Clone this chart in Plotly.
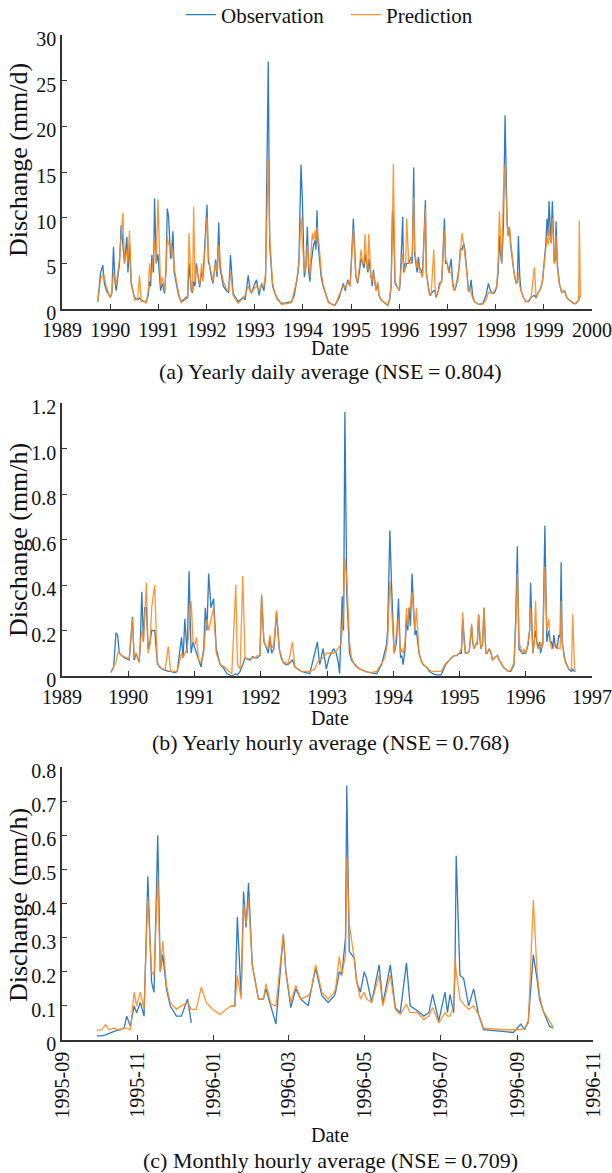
import plotly.graph_objects as go
from datetime import datetime, timedelta
import calendar

# ---------------- Panel (a): yearly daily average (decimal years) ----------------
# main peaks / troughs
a_years = [1989.743, 1989.799, 1989.847, 1989.917, 1990.0, 1990.035, 1990.069, 1990.125, 1990.194, 1990.229,
           1990.264, 1990.298, 1990.347, 1990.402, 1990.437, 1990.506, 1990.610, 1990.645, 1990.749, 1990.818,
           1990.867, 1990.922, 1990.957, 1990.992, 1991.047, 1991.130, 1991.186, 1991.214, 1991.255, 1991.304,
           1991.373, 1991.477, 1991.581, 1991.637, 1991.685, 1991.734, 1991.789, 1991.859, 1991.928, 1992.011,
           1992.067, 1992.136, 1992.191, 1992.254, 1992.309, 1992.413, 1992.497, 1992.552, 1992.656, 1992.760,
           1992.864, 1992.933, 1993.037, 1993.141, 1993.225, 1993.280, 1993.336, 1993.419, 1993.558, 1993.766,
           1993.870, 1993.918, 1993.960, 1993.988, 1994.029, 1994.092, 1994.147, 1994.196, 1994.251, 1994.293,
           1994.334, 1994.424, 1994.528, 1994.667, 1994.840, 1994.931, 1995.048, 1995.138, 1995.207, 1995.242,
           1995.290, 1995.332, 1995.367, 1995.415, 1995.463, 1995.519, 1995.553, 1995.622, 1995.761, 1995.830,
           1995.858, 1995.878, 1995.913, 1996.003, 1996.037, 1996.072, 1996.107, 1996.155, 1996.196, 1996.245,
           1996.300, 1996.349, 1996.397, 1996.452, 1996.542, 1996.591, 1996.660, 1996.715, 1996.763, 1996.833,
           1996.936, 1996.992, 1997.075, 1997.144, 1997.213, 1997.268, 1997.303, 1997.338, 1997.386, 1997.434,
           1997.490, 1997.559, 1997.732, 1997.849, 1997.939, 1998.022, 1998.077, 1998.126, 1998.160, 1998.195,
           1998.237, 1998.285, 1998.354, 1998.423, 1998.472, 1998.527, 1998.631, 1998.734, 1998.804, 1998.873,
           1998.942, 1999.011, 1999.066, 1999.108, 1999.149, 1999.177, 1999.218, 1999.253, 1999.322, 1999.426,
           1999.564, 1999.668, 1999.723, 1999.737, 1999.758]
a_obs = [0.8, 3.9, 4.8, 2.1, 1.3, 1.7, 6.8, 2.0, 5.0, 9.2,
         7.0, 5.0, 7.9, 7.0, 2.8, 1.3, 1.2, 1.0, 0.8, 3.0,
         5.9, 12.1, 5.0, 6.0, 2.0, 1.7, 11.0, 10.1, 5.5, 8.5,
         2.8, 0.8, 1.3, 5.0, 2.0, 3.0, 5.0, 2.4, 3.5, 11.4,
         4.8, 2.8, 5.4, 9.5, 3.5, 2.0, 5.9, 1.7, 0.8, 1.3,
         3.7, 1.7, 3.2, 2.8, 3.5, 27.1, 5.0, 1.7, 0.6, 0.8,
         3.2, 5.5, 15.8, 12.1, 3.5, 9.0, 3.0, 6.0, 7.5, 10.8,
         6.0, 2.4, 0.8, 0.4, 2.8, 3.2, 9.9, 2.8, 5.5, 5.0,
         6.0, 4.3, 5.5, 3.5, 4.3, 2.0, 2.8, 1.0, 0.4, 2.4,
         10.7, 10.0, 2.8, 2.0, 5.0, 10.1, 5.0, 5.0, 5.0, 5.7,
         15.5, 5.0, 5.7, 4.3, 11.9, 2.8, 1.7, 2.0, 1.3, 2.8,
         9.9, 5.0, 5.5, 2.0, 3.4, 6.6, 6.5, 7.2, 5.0, 2.0,
         3.2, 0.8, 0.6, 2.8, 1.7, 2.4, 8.0, 5.0, 9.0, 21.2,
         9.4, 9.0, 5.0, 2.8, 8.0, 2.0, 0.8, 1.3, 1.5, 1.7,
         2.4, 5.0, 9.9, 11.8, 7.2, 11.8, 5.0, 9.6, 2.8, 2.0,
         0.8, 0.6, 1.0, 1.3, 1.3]
a_pred = [0.8, 3.2, 3.8, 2.5, 1.2, 1.8, 4.0, 2.6, 5.5, 8.0,
          10.5, 5.0, 6.5, 8.6, 3.0, 1.0, 3.7, 0.8, 0.6, 5.0,
          4.0, 7.5, 5.0, 12.0, 2.5, 2.0, 7.9, 7.0, 7.2, 6.5,
          3.2, 0.7, 1.1, 8.3, 2.0, 11.2, 4.5, 2.6, 3.0, 10.1,
          4.5, 3.0, 5.0, 7.0, 4.0, 2.2, 4.0, 1.5, 0.6, 1.2,
          2.5, 1.8, 2.5, 2.6, 4.0, 16.4, 6.0, 1.8, 0.5, 0.7,
          3.0, 5.0, 10.1, 8.0, 4.0, 7.0, 3.5, 8.3, 8.6, 9.0,
          7.2, 2.6, 0.7, 0.4, 2.5, 3.0, 8.8, 3.0, 6.5, 5.0,
          8.2, 4.3, 8.2, 3.5, 4.0, 2.0, 3.0, 1.0, 0.4, 2.5,
          8.0, 15.9, 3.0, 2.0, 4.5, 6.0, 4.0, 9.9, 5.0, 5.0,
          12.3, 5.0, 5.0, 4.0, 11.0, 3.0, 1.5, 6.5, 1.2, 2.5,
          8.6, 5.0, 4.0, 2.0, 3.0, 6.0, 8.3, 7.0, 5.0, 2.0,
          1.8, 0.8, 0.5, 1.8, 1.7, 2.5, 10.7, 5.0, 12.8, 15.9,
          9.4, 9.0, 5.0, 3.0, 4.0, 2.0, 0.8, 1.2, 4.6, 1.7,
          2.4, 5.0, 7.9, 9.0, 7.2, 10.0, 5.0, 8.0, 2.8, 2.0,
          0.8, 0.6, 1.0, 9.7, 1.3]
# smaller intermediate fluctuations between the main peaks
a_years_minor = [1989.88, 1990.10, 1990.16, 1990.37, 1990.47, 1990.57, 1990.70, 1990.79, 1990.84, 1990.90,
                 1991.08, 1991.16, 1991.28, 1991.33, 1991.42, 1991.61, 1991.71, 1991.76, 1991.90, 1992.04,
                 1992.10, 1992.22, 1992.28, 1992.35, 1992.46, 1992.80, 1992.90, 1992.98, 1993.09, 1993.19,
                 1993.31, 1993.37, 1993.48, 1993.82, 1993.90, 1994.06, 1994.12, 1994.17, 1994.22, 1994.27,
                 1994.31, 1994.38, 1994.60, 1994.75, 1994.88, 1994.98, 1995.10, 1995.17, 1995.27, 1995.35,
                 1995.44, 1995.49, 1995.58, 1995.70, 1995.80, 1995.95, 1996.02, 1996.09, 1996.13, 1996.22,
                 1996.27, 1996.32, 1996.37, 1996.42, 1996.48, 1996.56, 1996.63, 1996.74, 1996.80, 1996.88,
                 1996.96, 1997.03, 1997.11, 1997.18, 1997.24, 1997.36, 1997.41, 1997.46, 1997.52, 1997.65,
                 1997.80, 1997.89, 1997.98, 1998.05, 1998.10, 1998.14, 1998.22, 1998.26, 1998.31, 1998.38,
                 1998.45, 1998.50, 1998.58, 1998.68, 1998.84, 1998.91, 1998.97, 1999.04, 1999.09, 1999.13,
                 1999.20, 1999.24, 1999.28, 1999.37, 1999.48, 1999.62, 1999.70]
a_obs_minor = [2.8, 3.0, 3.5, 4.0, 2.0, 1.0, 0.8, 1.5, 2.5, 4.0,
               2.8, 4.5, 6.5, 4.0, 1.5, 1.2, 1.8, 2.5, 4.0, 5.0,
               3.5, 3.5, 4.5, 2.5, 1.8, 1.0, 2.2, 2.5, 1.5, 2.0,
               7.0, 2.5, 1.0, 1.5, 4.0, 4.5, 4.0, 5.0, 7.0, 6.5,
               7.5, 3.5, 0.5, 1.2, 2.0, 2.5, 3.5, 4.0, 4.5, 4.0,
               2.5, 3.0, 1.5, 0.6, 1.0, 2.5, 3.0, 4.0, 4.5, 5.5,
               5.0, 6.0, 4.0, 4.5, 3.5, 4.0, 1.5, 2.0, 1.8, 3.0,
               5.0, 4.0, 2.8, 2.5, 4.5, 6.5, 3.5, 2.0, 1.5, 0.5,
               1.5, 2.0, 1.8, 4.0, 6.0, 6.5, 12.0, 8.0, 7.0, 4.0,
               3.0, 3.5, 1.2, 0.8, 1.2, 2.0, 3.0, 7.0, 8.0, 9.0,
               7.0, 5.5, 5.0, 1.8, 1.2, 0.6, 0.8]
a_pred_minor = [3.5, 3.5, 4.0, 5.0, 2.2, 1.1, 0.9, 2.0, 3.5, 6.0,
                3.5, 4.0, 5.5, 4.5, 1.8, 1.5, 2.0, 3.0, 5.0, 6.0,
                4.0, 4.0, 5.5, 3.0, 2.0, 1.5, 2.0, 2.2, 2.0, 2.5,
                8.0, 2.8, 1.1, 2.0, 4.5, 4.5, 5.0, 6.5, 7.5, 7.5,
                8.0, 4.0, 0.5, 1.5, 2.3, 2.5, 3.5, 4.5, 5.0, 4.5,
                3.0, 3.0, 1.5, 0.6, 1.2, 2.5, 3.5, 5.0, 4.5, 5.0,
                6.0, 6.5, 4.5, 4.0, 3.5, 4.0, 1.5, 2.5, 1.8, 3.2,
                5.5, 4.0, 2.5, 2.8, 4.5, 6.0, 3.5, 2.0, 1.2, 0.5,
                1.0, 1.8, 2.0, 5.0, 7.0, 8.0, 11.0, 8.0, 7.5, 4.0,
                2.8, 2.5, 1.2, 0.9, 1.2, 2.0, 3.0, 6.0, 7.0, 8.0,
                7.0, 6.0, 4.5, 1.8, 1.2, 0.6, 0.8]

# ---------------- Panel (b): yearly hourly average (decimal years) ----------------
b_years = [1989.74, 1989.78, 1989.815, 1989.84, 1989.865, 1989.94, 1990.015, 1990.065, 1990.09, 1990.165,
           1990.205, 1990.23, 1990.25, 1990.275, 1990.30, 1990.355, 1990.40, 1990.44, 1990.515, 1990.605,
           1990.64, 1990.74, 1990.805, 1990.83, 1990.855, 1990.89, 1990.92, 1990.95, 1990.98, 1991.03,
           1991.065, 1991.10, 1991.165, 1991.19, 1991.215, 1991.25, 1991.29, 1991.33, 1991.39, 1991.49,
           1991.565, 1991.625, 1991.65, 1991.69, 1991.73, 1991.765, 1991.84, 1991.915, 1991.99, 1992.015,
           1992.05, 1992.115, 1992.165, 1992.24, 1992.28, 1992.34, 1992.415, 1992.48, 1992.515, 1992.615,
           1992.74, 1992.815, 1992.855, 1992.89, 1992.94, 1992.99, 1993.065, 1993.14, 1993.19, 1993.23,
           1993.25, 1993.27, 1993.30, 1993.34, 1993.415, 1993.50, 1993.65, 1993.75, 1993.825, 1993.875,
           1993.915, 1993.95, 1993.975, 1994.015, 1994.05, 1994.08, 1994.11, 1994.15, 1994.20, 1994.24,
           1994.285, 1994.315, 1994.35, 1994.39, 1994.45, 1994.55, 1994.65, 1994.725, 1994.79, 1994.85,
           1994.925, 1995.0, 1995.05, 1995.09, 1995.15, 1995.185, 1995.22, 1995.25, 1995.29, 1995.325,
           1995.37, 1995.40, 1995.45, 1995.50, 1995.575, 1995.625, 1995.70, 1995.775, 1995.825, 1995.85,
           1995.875, 1995.90, 1995.95, 1996.0, 1996.04, 1996.075, 1996.11, 1996.15, 1996.19, 1996.225,
           1996.26, 1996.29, 1996.32, 1996.35, 1996.39, 1996.425, 1996.475, 1996.50, 1996.535, 1996.565,
           1996.60, 1996.65, 1996.69, 1996.71, 1996.735, 1996.75]
b_obs = [0.015, 0.04, 0.19, 0.18, 0.10, 0.08, 0.07, 0.26, 0.07, 0.06,
         0.37, 0.15, 0.30, 0.30, 0.12, 0.20, 0.20, 0.06, 0.03, 0.02,
         0.02, 0.02, 0.17, 0.08, 0.25, 0.10, 0.46, 0.10, 0.15, 0.10,
         0.07, 0.04, 0.30, 0.20, 0.45, 0.30, 0.34, 0.12, 0.05, 0.01,
         0.00, 0.01, 0.005, 0.02, 0.05, 0.08, 0.07, 0.08, 0.09, 0.35,
         0.15, 0.10, 0.10, 0.28, 0.12, 0.06, 0.05, 0.07, 0.04, 0.02,
         0.01, 0.10, 0.15, 0.05, 0.12, 0.03, 0.10, 0.10, 0.01, 0.35,
         0.20, 1.16, 0.35, 0.10, 0.05, 0.03, 0.015, 0.01, 0.05, 0.10,
         0.20, 0.64, 0.40, 0.10, 0.15, 0.34, 0.08, 0.05, 0.25, 0.30,
         0.45, 0.25, 0.20, 0.10, 0.05, 0.02, 0.005, 0.005, 0.05, 0.07,
         0.09, 0.10, 0.25, 0.10, 0.11, 0.22, 0.12, 0.14, 0.27, 0.12,
         0.30, 0.10, 0.12, 0.07, 0.09, 0.06, 0.03, 0.02, 0.05, 0.25,
         0.57, 0.12, 0.10, 0.10, 0.14, 0.41, 0.10, 0.20, 0.12, 0.10,
         0.14, 0.66, 0.15, 0.20, 0.15, 0.18, 0.12, 0.18, 0.50, 0.12,
         0.06, 0.03, 0.02, 0.03, 0.02, 0.02]
b_pred = [0.02, 0.04, 0.06, 0.10, 0.10, 0.085, 0.075, 0.25, 0.08, 0.06,
          0.20, 0.15, 0.30, 0.41, 0.10, 0.30, 0.40, 0.05, 0.03, 0.13,
          0.02, 0.02, 0.10, 0.08, 0.10, 0.12, 0.20, 0.33, 0.15, 0.17,
          0.07, 0.06, 0.20, 0.25, 0.20, 0.25, 0.30, 0.10, 0.05, 0.03,
          0.01, 0.40, 0.05, 0.03, 0.44, 0.08, 0.075, 0.08, 0.09, 0.36,
          0.15, 0.12, 0.12, 0.29, 0.12, 0.06, 0.05, 0.15, 0.04, 0.02,
          0.02, 0.03, 0.06, 0.07, 0.08, 0.10, 0.10, 0.11, 0.13, 0.20,
          0.30, 0.52, 0.42, 0.15, 0.05, 0.03, 0.015, 0.02, 0.06, 0.08,
          0.15, 0.42, 0.30, 0.10, 0.20, 0.25, 0.10, 0.10, 0.30, 0.30,
          0.37, 0.25, 0.30, 0.10, 0.05, 0.025, 0.02, 0.02, 0.055, 0.07,
          0.09, 0.10, 0.28, 0.10, 0.11, 0.23, 0.12, 0.14, 0.27, 0.12,
          0.30, 0.10, 0.12, 0.07, 0.09, 0.06, 0.03, 0.025, 0.06, 0.20,
          0.45, 0.15, 0.10, 0.10, 0.17, 0.30, 0.10, 0.33, 0.12, 0.15,
          0.15, 0.48, 0.20, 0.25, 0.12, 0.13, 0.13, 0.12, 0.33, 0.12,
          0.06, 0.03, 0.03, 0.27, 0.04, 0.025]
# smaller intermediate fluctuations of panel (b)
b_years_minor = [1989.90, 1990.12, 1990.18, 1990.33, 1990.47, 1990.56, 1990.70, 1991.01, 1991.14, 1991.36,
                 1991.45, 1991.80, 1991.88, 1991.95, 1992.08, 1992.14, 1992.20, 1992.31, 1992.38, 1992.56,
                 1992.68, 1993.03, 1993.10, 1993.17, 1993.21, 1993.37, 1993.45, 1993.58, 1993.85, 1993.90,
                 1994.00, 1994.03, 1994.13, 1994.18, 1994.22, 1994.26, 1994.33, 1994.42, 1994.50, 1994.60,
                 1994.88, 1994.96, 1995.03, 1995.07, 1995.12, 1995.20, 1995.27, 1995.31, 1995.35, 1995.42,
                 1995.48, 1995.53, 1995.60, 1995.66, 1995.74, 1995.97, 1996.02, 1996.06, 1996.13, 1996.17,
                 1996.21, 1996.24, 1996.37, 1996.41, 1996.45, 1996.49, 1996.52, 1996.55, 1996.58, 1996.62]
b_obs_minor = [0.09, 0.10, 0.12, 0.15, 0.04, 0.025, 0.015, 0.12, 0.12, 0.08,
               0.03, 0.075, 0.085, 0.08, 0.13, 0.17, 0.12, 0.08, 0.05, 0.03,
               0.015, 0.08, 0.12, 0.06, 0.15, 0.07, 0.04, 0.02, 0.08, 0.14,
               0.15, 0.12, 0.09, 0.12, 0.20, 0.22, 0.18, 0.07, 0.04, 0.01,
               0.08, 0.09, 0.10, 0.15, 0.10, 0.15, 0.14, 0.16, 0.14, 0.10,
               0.10, 0.08, 0.07, 0.04, 0.02, 0.10, 0.12, 0.20, 0.15, 0.15,
               0.15, 0.12, 0.15, 0.12, 0.13, 0.15, 0.17, 0.15, 0.10, 0.05]
b_pred_minor = [0.09, 0.10, 0.13, 0.14, 0.045, 0.03, 0.02, 0.14, 0.10, 0.07,
                0.04, 0.075, 0.08, 0.09, 0.13, 0.18, 0.14, 0.09, 0.06, 0.03,
                0.02, 0.10, 0.10, 0.12, 0.14, 0.08, 0.04, 0.02, 0.07, 0.12,
                0.15, 0.13, 0.12, 0.15, 0.22, 0.30, 0.20, 0.07, 0.04, 0.02,
                0.08, 0.09, 0.12, 0.15, 0.10, 0.16, 0.15, 0.17, 0.14, 0.10,
                0.10, 0.08, 0.07, 0.04, 0.02, 0.12, 0.12, 0.20, 0.15, 0.14,
                0.13, 0.12, 0.15, 0.12, 0.14, 0.12, 0.12, 0.14, 0.08, 0.05]

# ---------------- Panel (c): monthly hourly average (dates) ----------------
c_dates = ["1995-09-29", "1995-10-03", "1995-10-06", "1995-10-09", "1995-10-13", "1995-10-17", "1995-10-21",
           "1995-10-23", "1995-10-26", "1995-10-29", "1995-10-31", "1995-11-03", "1995-11-06", "1995-11-09",
           "1995-11-12", "1995-11-14", "1995-11-17", "1995-11-19", "1995-11-21", "1995-11-24", "1995-11-27",
           "1995-12-02", "1995-12-06", "1995-12-11", "1995-12-14", "1995-12-18", "1995-12-22", "1995-12-26",
           "1995-12-31", "1996-01-06", "1996-01-11", "1996-01-15", "1996-01-18", "1996-01-20", "1996-01-23",
           "1996-01-25", "1996-01-27", "1996-01-29", "1996-02-01", "1996-02-06", "1996-02-10", "1996-02-12",
           "1996-02-16", "1996-02-20", "1996-02-26", "1996-02-28", "1996-03-03", "1996-03-07", "1996-03-11",
           "1996-03-17", "1996-03-19", "1996-03-23", "1996-03-28", "1996-04-02", "1996-04-07", "1996-04-08",
           "1996-04-11", "1996-04-13", "1996-04-16", "1996-04-17", "1996-04-19", "1996-04-23", "1996-04-25",
           "1996-04-28", "1996-05-01", "1996-05-03", "1996-05-07", "1996-05-13", "1996-05-16", "1996-05-22",
           "1996-05-26", "1996-05-30", "1996-06-04", "1996-06-07", "1996-06-13", "1996-06-18", "1996-06-22",
           "1996-06-25", "1996-06-30", "1996-07-05", "1996-07-07", "1996-07-09", "1996-07-12", "1996-07-13",
           "1996-07-14", "1996-07-17", "1996-07-20", "1996-07-24", "1996-07-28", "1996-08-01", "1996-08-05",
           "1996-08-13", "1996-08-21", "1996-08-29", "1996-09-04", "1996-09-07", "1996-09-10", "1996-09-14",
           "1996-09-17", "1996-09-19", "1996-09-22", "1996-09-27", "1996-09-30"]
c_obs = [0.012, 0.012, 0.015, 0.02, 0.025, 0.03, 0.035,
         0.07, 0.04, 0.10, 0.08, 0.11, 0.07, 0.48,
         0.17, 0.14, 0.60, 0.20, 0.25, 0.15, 0.10,
         0.07, 0.07, 0.12, 0.05, None, None, None,
         None, None, None, 0.10, 0.10, 0.36, 0.13,
         0.435, 0.33, 0.46, 0.22, 0.12, 0.12, 0.15,
         0.10, 0.047, 0.31, 0.20, 0.095, 0.15, 0.12,
         0.10, 0.14, 0.21, 0.13, 0.11, 0.13, 0.14,
         0.20, 0.19, 0.30, 0.746, 0.26, 0.24, 0.17,
         0.14, 0.20, 0.18, 0.11, 0.22, 0.105, 0.22,
         0.095, 0.08, 0.226, 0.10, 0.085, 0.07, 0.08,
         0.134, 0.056, 0.14, 0.08, 0.134, 0.08, 0.20,
         0.54, 0.19, 0.18, 0.10, 0.15, 0.075, 0.03,
         0.028, 0.025, 0.022, 0.047, 0.03, 0.056, 0.25,
         0.18, 0.12, 0.085, 0.04, 0.035]
c_pred = [0.028, 0.03, 0.045, 0.03, 0.035, 0.028, 0.035,
          0.035, 0.03, 0.14, 0.10, 0.14, 0.09, 0.42,
          0.20, 0.19, 0.48, 0.20, 0.29, 0.16, 0.11,
          0.09, 0.10, 0.11, 0.09, 0.09, 0.155, 0.11,
          0.09, 0.075, 0.09, 0.10, 0.10, 0.19, 0.12,
          0.40, 0.34, 0.41, 0.22, 0.12, 0.12, 0.165,
          0.105, 0.10, 0.31, 0.20, 0.11, 0.16, 0.12,
          0.13, 0.14, 0.22, 0.14, 0.12, 0.14, 0.15,
          0.245, 0.19, 0.25, 0.535, 0.34, 0.24, 0.17,
          0.12, 0.14, 0.12, 0.11, 0.19, 0.10, 0.19,
          0.09, 0.075, 0.105, 0.08, 0.08, 0.06, 0.07,
          0.095, 0.05, 0.08, 0.07, 0.07, 0.10, 0.24,
          0.20, 0.12, 0.105, 0.09, 0.10, 0.075, 0.035,
          0.032, 0.03, 0.03, 0.03, 0.035, 0.05, 0.41,
          0.20, 0.13, 0.085, 0.056, 0.037]

# ---------------- helpers ----------------
def to_date(y):
    yr = int(y)
    ndays = 366 if calendar.isleap(yr) else 365
    return datetime(yr, 1, 1) + timedelta(days=(y - yr) * ndays)

def merged(years, obs, pred, years2, obs2, pred2):
    rows = sorted(zip(years + years2, obs + obs2, pred + pred2))
    return [to_date(r[0]) for r in rows], [r[1] for r in rows], [r[2] for r in rows]

a_dates, a_obs_all, a_pred_all = merged(a_years, a_obs, a_pred, a_years_minor, a_obs_minor, a_pred_minor)
b_dates, b_obs_all, b_pred_all = merged(b_years, b_obs, b_pred, b_years_minor, b_obs_minor, b_pred_minor)

BLUE = "#2f7bbf"
ORANGE = "#ff8a1f"
FONT = "Liberation Serif"
TXT = "#111111"

fig = go.Figure()

def add_pair(x, obs, pred, xa, ya, show):
    fig.add_trace(go.Scatter(x=x, y=obs, mode="lines", name="Observation",
                             line=dict(color=BLUE, width=1.3), xaxis=xa, yaxis=ya,
                             showlegend=show, connectgaps=False))
    fig.add_trace(go.Scatter(x=x, y=pred, mode="lines", name="Prediction",
                             line=dict(color=ORANGE, width=1.3), xaxis=xa, yaxis=ya,
                             showlegend=show, opacity=0.9))

add_pair(a_dates, a_obs_all, a_pred_all, "x", "y", True)
add_pair(b_dates, b_obs_all, b_pred_all, "x2", "y2", False)
add_pair(c_dates, c_obs, c_pred, "x3", "y3", False)

# layout geometry (pixels -> paper)
L, R_EDGE, TOP, BOT = 62, 597, 35, 1040
W = R_EDGE - L
H = BOT - TOP
def py(p):
    return (BOT - p) / H
def px(p):
    return (p - L) / W

axis_common = dict(showline=True, linecolor="#333333", linewidth=1.5, ticks="inside",
                   ticklen=5, tickwidth=1.3, tickcolor="#333333", showgrid=False, zeroline=False,
                   tickfont=dict(family=FONT, size=20, color=TXT), mirror=False)
xa_common = dict(ticklabeloverflow="allow", ticklabelstandoff=2, **axis_common)
ya_common = dict(ticklabelshift=4, **axis_common)

fig.update_layout(
    width=612, height=1173,
    margin=dict(l=L, r=612 - R_EDGE, t=TOP, b=1173 - BOT, autoexpand=False),
    paper_bgcolor="white", plot_bgcolor="white",
    font=dict(family=FONT, size=21, color=TXT),
    showlegend=True,
    legend=dict(orientation="h", x=px(346), xanchor="center", y=py(15), yanchor="middle",
                font=dict(family=FONT, size=21, color=TXT), bgcolor="rgba(0,0,0,0)",
                itemwidth=30, tracegroupgap=0, entrywidth=120, entrywidthmode="pixels"),
    xaxis=dict(domain=[0, px(592)], anchor="y", type="date",
               range=["1989-01-01", "2000-01-01"], dtick="M12", tick0="1989-01-01",
               tickformat="%Y", **xa_common),
    yaxis=dict(domain=[py(309), py(35)], anchor="x", range=[0, 30],
               tickvals=[0, 5, 10, 15, 20, 25, 30], **ya_common),
    xaxis2=dict(domain=[0, px(592)], anchor="y2", type="date",
                range=["1989-01-01", "1997-01-01"], dtick="M12", tick0="1989-01-01",
                tickformat="%Y", **xa_common),
    yaxis2=dict(domain=[py(676), py(403)], anchor="x2", range=[0, 1.2],
                tickvals=[0, 0.2, 0.4, 0.6, 0.8, 1.0, 1.2],
                ticktext=["0", "0.2", "0.4", "0.6", "0.8", "1.0", "1.2"], **ya_common),
    xaxis3=dict(domain=[0, px(593)], anchor="y3", type="date",
                range=["1995-09-01", "1996-11-01"], dtick="M2", tick0="1995-09-01",
                tickformat="%Y-%m", tickangle=-90, **xa_common),
    yaxis3=dict(domain=[0, py(767)], anchor="x3", range=[0, 0.8],
                tickvals=[0, 0.1, 0.2, 0.3, 0.4, 0.5, 0.6, 0.7, 0.8],
                ticktext=["0", "0.1", "0.2", "0.3", "0.4", "0.5", "0.6", "0.7", "0.8"], **ya_common),
)

def ann(text, xpix, ypix, size=21, angle=0):
    fig.add_annotation(text=text, xref="paper", yref="paper", x=px(xpix), y=py(ypix),
                       xanchor="center", yanchor="middle", showarrow=False, textangle=angle,
                       font=dict(family=FONT, size=size, color=TXT))

ann("Date", 330, 348, size=20)
ann("(a) Yearly daily average (NSE\u2009=\u20090.804)", 330, 371, size=22)
ann("Date", 330, 718, size=20)
ann("(b) Yearly hourly average (NSE\u2009=\u20090.768)", 330, 742, size=22)
ann("Date", 330, 1135, size=20)
ann("(c) Monthly hourly average (NSE\u2009=\u20090.709)", 330, 1160, size=22)
ann("Dischange (mm/d)", 18, 160, size=26, angle=-90)
ann("Dischange (mm/h)", 18, 540, size=26, angle=-90)
ann("Dischange (mm/h)", 18, 905, size=26, angle=-90)

fig.write_html("out.html")
